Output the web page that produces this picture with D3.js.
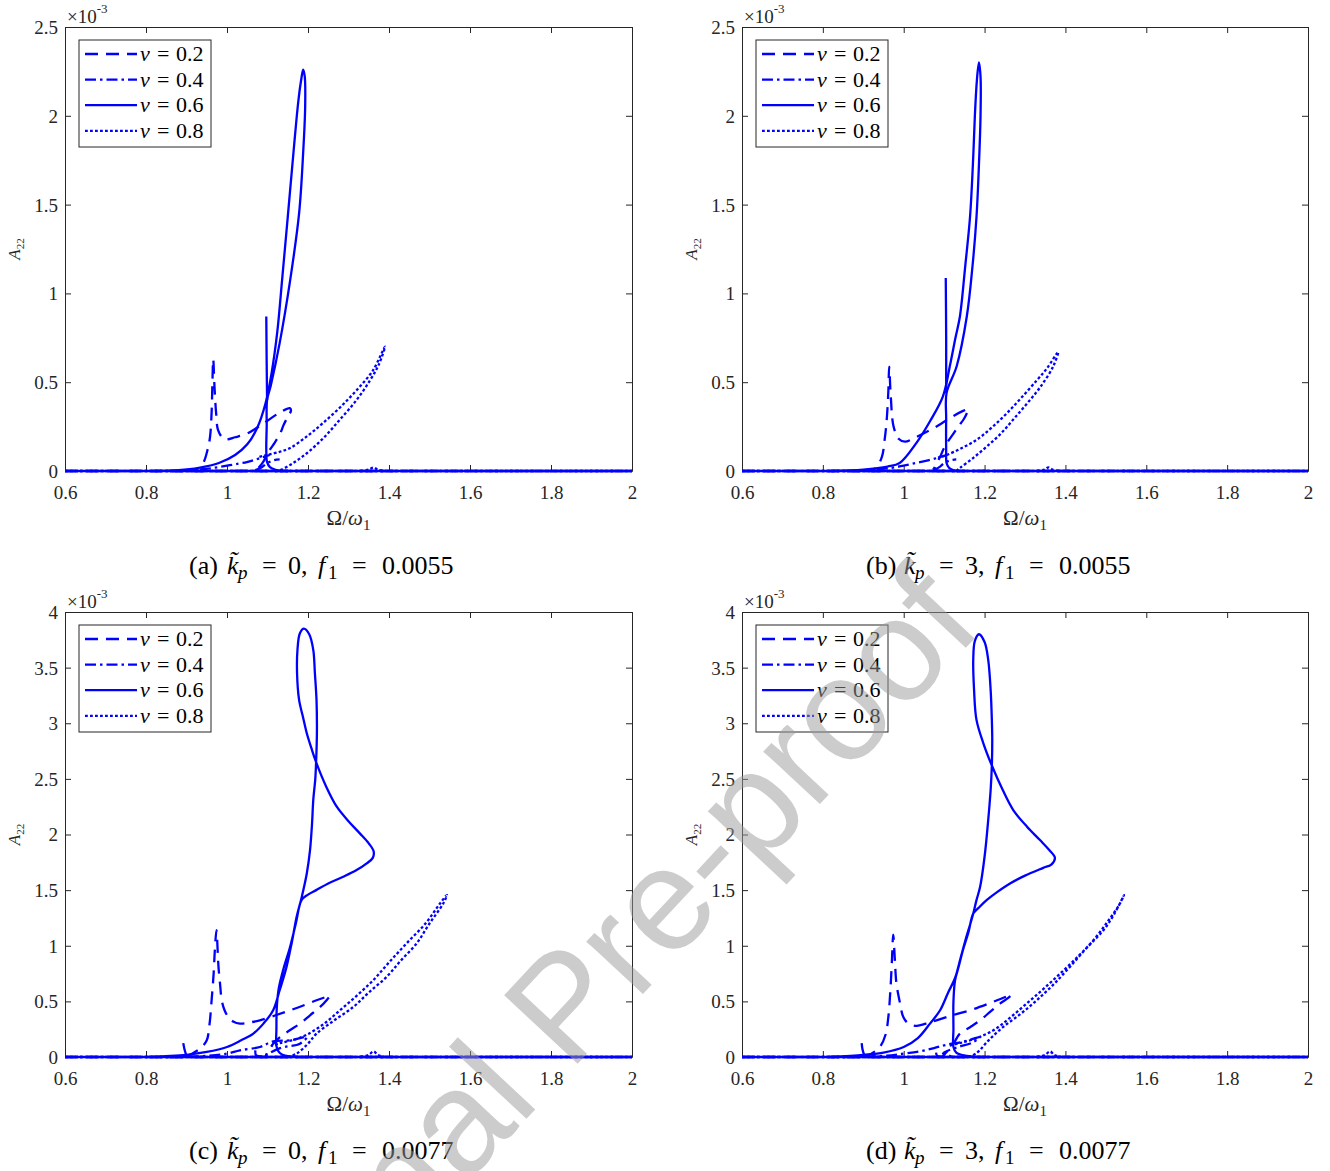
<!DOCTYPE html>
<html><head><meta charset="utf-8">
<script src="https://cdn.jsdelivr.net/npm/d3@7"></script>
<style>html,body{margin:0;padding:0;background:#fff;}svg{display:block;}</style>
</head><body>
<svg id="c" width="1330" height="1171"></svg>
<script>
// ---------- data ----------
const X_TICKS = [0.6, 0.8, 1, 1.2, 1.4, 1.6, 1.8, 2];
const Y_TICKS_TOP = [0, 0.5, 1, 1.5, 2, 2.5];
const Y_TICKS_BOTTOM = [0, 0.5, 1, 1.5, 2, 2.5, 3, 3.5, 4];
const SERIES_V = ["0.2", "0.4", "0.6", "0.8"];
const CAPTIONS = [
  {tag: "(a)", kp: "0", f1: "0.0055"},
  {tag: "(b)", kp: "3", f1: "0.0055"},
  {tag: "(c)", kp: "0", f1: "0.0077"},
  {tag: "(d)", kp: "3", f1: "0.0077"}
];
const BASELINE = [[0.6, 0], [2, 0]];

// panel (a)
const a_v02 = [
  [[0.90,0],[0.925,0.01],[0.941,0.045],[0.952,0.12],[0.958,0.19],[0.962,0.33],[0.964,0.5],[0.966,0.63],[0.969,0.48],[0.973,0.33],[0.978,0.23],[0.99,0.185],[0.999,0.178],[1.02,0.19],[1.049,0.21],[1.075,0.245],[1.098,0.28],[1.131,0.33],[1.155,0.354],[1.158,0.34],[1.151,0.31],[1.14,0.26],[1.131,0.21],[1.118,0.16],[1.106,0.12],[1.089,0.05],[1.077,0.015],[1.072,0]]
];
const a_v04 = [
  [[0.88,0],[0.93,0.008],[0.966,0.017],[1.0,0.03],[1.03,0.042],[1.049,0.05],[1.065,0.06],[1.085,0.075],[1.105,0.09]],
  [[1.07,0.005],[1.085,0.02],[1.1,0.045],[1.115,0.06],[1.13,0.065]]
];
const a_v06 = [
  [[0.82,0],[0.88,0.005],[0.93,0.018],[0.98,0.045],[1.02,0.09],[1.05,0.15],[1.075,0.245],[1.095,0.38],[1.11,0.55],[1.124,0.78],[1.136,1.075],[1.15,1.43],[1.164,1.79],[1.176,2.08],[1.183,2.2],[1.188,2.26],[1.192,2.22],[1.193,2.05],[1.188,1.79],[1.178,1.45],[1.156,1.075],[1.13,0.72],[1.108,0.48],[1.099,0.4],[1.098,0.25],[1.097,0.12],[1.099,0.05],[1.106,0.022],[1.12,0.007],[1.15,0]],
  [[1.097,0.87],[1.098,0.6],[1.099,0.4]]
];
const a_v08 = [
  [[1.12,0],[1.131,0.005],[1.16,0.04],[1.197,0.10],[1.24,0.19],[1.279,0.29],[1.32,0.40],[1.353,0.51],[1.375,0.6],[1.39,0.70],[1.36,0.565],[1.32,0.455],[1.28,0.36],[1.237,0.27],[1.2,0.2],[1.156,0.13],[1.125,0.105],[1.098,0.09],[1.08,0.08]],
  [[1.33,0],[1.35,0.008],[1.362,0.02],[1.372,0.008],[1.39,0]]
];

// panel (b)
const b_v02 = [
  [[0.90,0],[0.93,0.015],[0.946,0.08],[0.953,0.18],[0.958,0.29],[0.962,0.45],[0.964,0.587],[0.968,0.42],[0.975,0.25],[0.988,0.18],[1.003,0.165],[1.03,0.19],[1.065,0.23],[1.095,0.27],[1.123,0.31],[1.148,0.34],[1.16,0.35],[1.157,0.33],[1.148,0.29],[1.135,0.25],[1.123,0.21],[1.102,0.14],[1.09,0.08],[1.077,0.025],[1.074,0]],
  [[1.072,0.01],[1.078,0.014],[1.082,0.006]]
];
const b_v04 = [
  [[0.88,0],[0.93,0.008],[0.97,0.018],[1.0,0.03],[1.03,0.045],[1.06,0.06],[1.085,0.075],[1.106,0.09]],
  [[1.075,0.005],[1.09,0.025],[1.1,0.045],[1.115,0.06],[1.13,0.065]]
];
const b_v06 = [
  [[0.82,0],[0.9,0.008],[0.96,0.025],[0.99,0.045],[1.032,0.16],[1.065,0.28],[1.097,0.42],[1.114,0.59],[1.128,0.75],[1.139,0.87],[1.152,1.15],[1.164,1.43],[1.171,1.72],[1.176,2.0],[1.181,2.2],[1.186,2.30],[1.19,2.22],[1.19,2.0],[1.186,1.72],[1.18,1.43],[1.17,1.15],[1.156,0.87],[1.131,0.59],[1.106,0.44],[1.105,0.3],[1.105,0.12],[1.106,0.045],[1.112,0.018],[1.122,0.005],[1.134,0]],
  [[1.104,1.087],[1.105,0.75],[1.105,0.44]]
];
const b_v08 = [
  [[1.13,0],[1.139,0.017],[1.17,0.07],[1.205,0.137],[1.24,0.21],[1.271,0.29],[1.305,0.38],[1.337,0.47],[1.37,0.59],[1.382,0.67],[1.355,0.58],[1.329,0.51],[1.29,0.41],[1.255,0.325],[1.218,0.245],[1.18,0.175],[1.14,0.125],[1.106,0.09],[1.085,0.075]],
  [[1.33,0],[1.348,0.008],[1.358,0.02],[1.368,0.008],[1.385,0]]
];

// panel (c)
const c_v02 = [
  [[0.90,0],[0.909,0.02],[0.935,0.08],[0.95,0.15],[0.957,0.3],[0.962,0.51],[0.967,0.75],[0.970,0.96],[0.974,1.14],[0.977,0.95],[0.979,0.81],[0.983,0.65],[0.987,0.51],[0.994,0.42],[1.003,0.36],[1.015,0.32],[1.032,0.30],[1.055,0.31],[1.081,0.33],[1.12,0.375],[1.156,0.42],[1.19,0.465],[1.221,0.51],[1.245,0.54],[1.254,0.55],[1.248,0.52],[1.23,0.45],[1.205,0.375],[1.18,0.30],[1.155,0.24],[1.131,0.18],[1.114,0.12],[1.105,0.07],[1.098,0.03],[1.095,0]],
  [[0.892,0.125],[0.895,0.07],[0.899,0.02]]
];
const c_v04 = [
  [[0.85,0],[0.95,0.01],[1.0,0.03],[1.032,0.06],[1.081,0.09],[1.114,0.14],[1.156,0.15],[1.197,0.18],[1.18,0.12],[1.131,0.08],[1.098,0.02],[1.09,0]],
  [[1.07,0.06],[1.072,0.015],[1.09,0.005]]
];
const c_v06 = [
  [[0.8,0],[0.9,0.02],[0.95,0.045],[1.0,0.09],[1.035,0.15],[1.065,0.21],[1.09,0.3],[1.114,0.42],[1.13,0.6],[1.147,0.81],[1.16,1.03],[1.172,1.26],[1.184,1.43],[1.197,1.65],[1.205,1.86],[1.21,2.1],[1.213,2.31],[1.218,2.5],[1.22,2.65],[1.222,2.91],[1.221,3.21],[1.217,3.45],[1.213,3.66],[1.203,3.8],[1.19,3.85],[1.18,3.81],[1.174,3.66],[1.173,3.45],[1.178,3.21],[1.188,3.05],[1.197,2.91],[1.208,2.78],[1.22,2.65],[1.245,2.43],[1.271,2.25],[1.3,2.12],[1.328,2.01],[1.35,1.92],[1.362,1.85],[1.36,1.79],[1.345,1.74],[1.32,1.68],[1.287,1.62],[1.25,1.56],[1.22,1.5],[1.2,1.46],[1.184,1.41],[1.17,1.2],[1.155,0.98],[1.14,0.8],[1.128,0.62],[1.123,0.45],[1.122,0.25],[1.122,0.1],[1.127,0.05],[1.137,0.02],[1.155,0.005],[1.18,0]]
];
const c_v08 = [
  [[1.15,0],[1.172,0.03],[1.2,0.12],[1.221,0.21],[1.265,0.33],[1.312,0.45],[1.35,0.58],[1.394,0.72],[1.43,0.87],[1.468,1.02],[1.5,1.2],[1.534,1.38],[1.543,1.456],[1.526,1.38],[1.49,1.2],[1.443,1.02],[1.4,0.85],[1.361,0.69],[1.32,0.55],[1.279,0.42],[1.24,0.3],[1.197,0.2],[1.16,0.15],[1.131,0.125],[1.11,0.1]],
  [[1.33,0],[1.35,0.02],[1.362,0.05],[1.372,0.02],[1.39,0]]
];

// panel (d)
const d_v02 = [
  [[0.90,0],[0.92,0.03],[0.941,0.09],[0.955,0.2],[0.962,0.36],[0.967,0.6],[0.971,0.88],[0.974,1.10],[0.978,0.88],[0.982,0.66],[0.99,0.5],[0.999,0.36],[1.012,0.3],[1.032,0.28],[1.055,0.3],[1.081,0.33],[1.12,0.375],[1.164,0.42],[1.21,0.48],[1.245,0.53],[1.267,0.56],[1.26,0.535],[1.238,0.48],[1.215,0.41],[1.189,0.33],[1.165,0.27],[1.139,0.21],[1.123,0.12],[1.11,0.06],[1.1,0.02],[1.097,0]],
  [[0.896,0.125],[0.898,0.07],[0.902,0.02]]
];
const d_v04 = [
  [[0.85,0],[0.95,0.01],[1.0,0.03],[1.04,0.05],[1.075,0.08],[1.106,0.11],[1.15,0.14],[1.189,0.18],[1.17,0.13],[1.135,0.09],[1.105,0.05],[1.097,0.03],[1.11,0.015],[1.12,0]],
  [[1.08,0.04],[1.083,0.01],[1.1,0.004]]
];
const d_v06 = [
  [[0.82,0],[0.9,0.02],[0.95,0.04],[1.0,0.09],[1.035,0.17],[1.065,0.30],[1.09,0.42],[1.11,0.58],[1.127,0.71],[1.14,0.88],[1.155,1.08],[1.165,1.2],[1.172,1.29],[1.18,1.41],[1.189,1.53],[1.2,1.8],[1.209,2.13],[1.215,2.4],[1.218,2.62],[1.219,2.85],[1.218,3.03],[1.215,3.3],[1.209,3.57],[1.2,3.73],[1.186,3.80],[1.176,3.74],[1.172,3.57],[1.174,3.3],[1.18,3.03],[1.197,2.82],[1.218,2.62],[1.245,2.4],[1.271,2.22],[1.305,2.07],[1.337,1.95],[1.36,1.86],[1.374,1.79],[1.365,1.73],[1.345,1.70],[1.3,1.63],[1.263,1.56],[1.23,1.48],[1.205,1.41],[1.185,1.34],[1.172,1.29],[1.16,1.12],[1.148,0.98],[1.135,0.8],[1.127,0.69],[1.123,0.5],[1.123,0.25],[1.123,0.09],[1.13,0.04],[1.156,0.01],[1.19,0]]
];
const d_v08 = [
  [[1.16,0],[1.18,0.035],[1.21,0.15],[1.246,0.27],[1.29,0.39],[1.329,0.51],[1.37,0.65],[1.411,0.81],[1.45,0.97],[1.494,1.14],[1.52,1.28],[1.545,1.456],[1.535,1.38],[1.505,1.22],[1.469,1.05],[1.43,0.9],[1.387,0.75],[1.345,0.61],[1.304,0.48],[1.262,0.35],[1.222,0.24],[1.18,0.17],[1.139,0.125],[1.11,0.1]],
  [[1.33,0],[1.35,0.02],[1.362,0.05],[1.372,0.02],[1.39,0]]
];

const PANEL_DATA = [
  [a_v02, a_v04, a_v06, a_v08],
  [b_v02, b_v04, b_v06, b_v08],
  [c_v02, c_v04, c_v06, c_v08],
  [d_v02, d_v04, d_v06, d_v08]
];

// ---------- layout / style ----------
const PANELS = [
  {l: 65,  r: 632,  t: 27,  b: 471,  ymax: 2.5, yt: Y_TICKS_TOP,    capX: 322, capY: 574},
  {l: 742, r: 1308, t: 27,  b: 471,  ymax: 2.5, yt: Y_TICKS_TOP,    capX: 999, capY: 574},
  {l: 65,  r: 632,  t: 612, b: 1057, ymax: 4,   yt: Y_TICKS_BOTTOM, capX: 322, capY: 1159},
  {l: 742, r: 1308, t: 612, b: 1057, ymax: 4,   yt: Y_TICKS_BOTTOM, capX: 999, capY: 1159}
];
const DASHES = ["13,8", "11,4,2.5,4", null, "2.8,2.2"];
const BLUE = "#0000ff";
const AX = "#262626";
const SERIF = "Liberation Serif, Tinos, Times New Roman, DejaVu Serif, serif";

const svg = d3.select("#c");
const defs = svg.append("defs");

PANELS.forEach((P, pi) => {
  const x = d3.scaleLinear().domain([0.6, 2]).range([P.l, P.r]);
  const y = d3.scaleLinear().domain([0, P.ymax]).range([P.b, P.t]);
  const g = svg.append("g");

  defs.append("clipPath").attr("id", "clip" + pi)
    .append("rect").attr("x", P.l - 2).attr("y", P.t).attr("width", P.r - P.l + 4).attr("height", P.b - P.t + 2);

  // axes
  const ticklen = 6;
  const xb = g.append("g").attr("transform", `translate(0,${P.b})`)
    .call(d3.axisBottom(x).tickValues(X_TICKS).tickSizeInner(-ticklen).tickSizeOuter(0).tickFormat(d3.format("~g")));
  const xt = g.append("g").attr("transform", `translate(0,${P.t})`)
    .call(d3.axisTop(x).tickValues(X_TICKS).tickSizeInner(-ticklen).tickSizeOuter(0).tickFormat(""));
  const yl = g.append("g").attr("transform", `translate(${P.l},0)`)
    .call(d3.axisLeft(y).tickValues(P.yt).tickSizeInner(-ticklen).tickSizeOuter(0).tickPadding(7).tickFormat(d3.format("~g")));
  const yr = g.append("g").attr("transform", `translate(${P.r},0)`)
    .call(d3.axisRight(y).tickValues(P.yt).tickSizeInner(-ticklen).tickSizeOuter(0).tickFormat(""));
  [xb, xt, yl, yr].forEach(a => {
    a.selectAll("path").attr("stroke", AX).attr("stroke-width", 1);
    a.selectAll("line").attr("stroke", AX).attr("stroke-width", 1);
    a.selectAll("text").attr("fill", AX).style("font-family", SERIF).style("font-size", "19px");
  });
  xb.selectAll("text").attr("y", 28).attr("dy", 0);
  yl.selectAll("text").attr("dy", "0.34em");

  // curves
  const line = d3.line().x(d => x(d[0])).y(d => y(d[1])).curve(d3.curveCatmullRom.alpha(0.5));
  const cg = g.append("g").attr("clip-path", `url(#clip${pi})`);
  PANEL_DATA[pi].forEach((segs, si) => {
    const all = [BASELINE].concat(segs);
    cg.selectAll(null).data(all).enter().append("path")
      .attr("d", line)
      .attr("fill", "none")
      .attr("stroke", BLUE)
      .attr("stroke-width", 2.3)
      .attr("stroke-linejoin", "round")
      .attr("stroke-dasharray", DASHES[si]);
  });

  // exponent label
  const ex = g.append("text").attr("x", P.l + 2).attr("y", P.t - 4)
    .style("font-family", SERIF).attr("fill", AX).style("font-size", "19px");
  ex.append("tspan").text("×10");
  ex.append("tspan").style("font-size", "13px").attr("dy", -10).text("-3");

  // x label
  const xlab = g.append("text").attr("x", (P.l + P.r) / 2).attr("y", P.b + 54)
    .attr("text-anchor", "middle").style("font-family", SERIF).attr("fill", AX).style("font-size", "21px");
  xlab.append("tspan").text("Ω/");
  xlab.append("tspan").style("font-style", "italic").text("ω");
  xlab.append("tspan").style("font-size", "15px").attr("dy", 5).text("1");

  // y label
  const ylab = g.append("text")
    .attr("transform", `translate(${P.l - 45},${(P.t + P.b) / 2}) rotate(-90)`)
    .attr("text-anchor", "middle").style("font-family", SERIF).attr("fill", AX).style("font-size", "17px");
  ylab.append("tspan").style("font-style", "italic").text("A");
  ylab.append("tspan").style("font-size", "11px").attr("dy", 4).text("22");

  // legend
  const lx = P.l + 14, ly = P.t + 13;
  const lg = g.append("g");
  lg.append("rect").attr("x", lx).attr("y", ly).attr("width", 132).attr("height", 107)
    .attr("fill", "#fff").attr("stroke", AX).attr("stroke-width", 1);
  SERIES_V.forEach((v, i) => {
    const yy = ly + 14 + i * 25.6;
    lg.append("line").attr("x1", lx + 6).attr("x2", lx + 58).attr("y1", yy).attr("y2", yy)
      .attr("stroke", BLUE).attr("stroke-width", 2.3).attr("stroke-dasharray", DASHES[i]);
    const t = lg.append("text").attr("y", yy + 7)
      .style("font-family", SERIF).style("font-size", "22px").attr("fill", "#000");
    t.append("tspan").attr("x", lx + 61).style("font-style", "italic").text("v");
    t.append("tspan").attr("x", lx + 78).text("=");
    t.append("tspan").attr("x", lx + 97).text(v);
  });

  // caption (pieces placed at offsets from caption centre)
  const C = CAPTIONS[pi];
  const cx = P.capX;
  const cap = svg.append("text").attr("y", P.capY)
    .style("font-family", SERIF).style("font-size", "26px").attr("fill", "#000");
  cap.append("tspan").attr("x", cx - 133).text(C.tag);
  cap.append("tspan").attr("x", cx - 95).style("font-style", "italic").text("k\u0303");
  cap.append("tspan").attr("x", cx - 84).attr("dy", 5).style("font-style", "italic").style("font-size", "19px").text("p");
  cap.append("tspan").attr("x", cx - 60).attr("dy", -5).text("=");
  cap.append("tspan").attr("x", cx - 34).text(C.kp + ",");
  cap.append("tspan").attr("x", cx - 4).style("font-style", "italic").text("f");
  cap.append("tspan").attr("x", cx + 6).attr("dy", 5).style("font-size", "19px").text("1");
  cap.append("tspan").attr("x", cx + 30).attr("dy", -5).text("=");
  cap.append("tspan").attr("x", cx + 60).text(C.f1);
});

// watermark
svg.append("text")
  .attr("transform", "translate(600,1040) rotate(-47)")
  .attr("text-anchor", "middle")
  .style("font-family", "Liberation Sans, Arial, sans-serif")
  .style("font-size", "146px")
  .attr("fill", "#999")
  .attr("fill-opacity", 0.5)
  .text("Journal Pre-proof");
</script>
</body></html>
